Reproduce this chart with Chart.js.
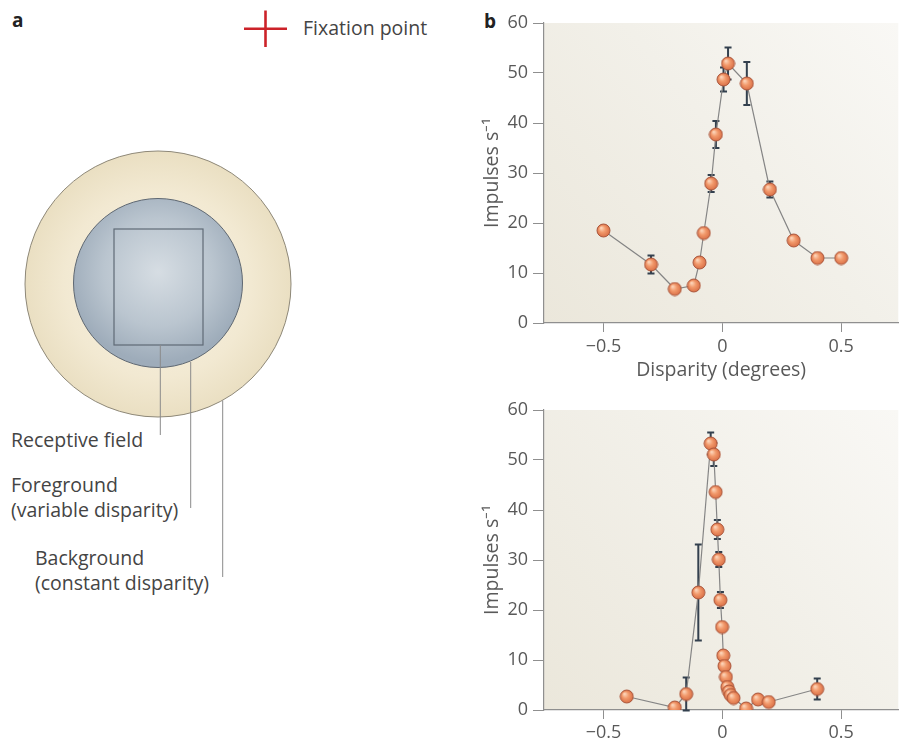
<!DOCTYPE html>
<html>
<head>
<meta charset="utf-8">
<script src="https://cdn.jsdelivr.net/npm/chart.js@4.4.1/dist/chart.umd.min.js"></script>
<style>
html,body{margin:0;padding:0;background:#fff;width:906px;height:743px;overflow:hidden;}
#wrap{position:relative;width:906px;height:743px;}
svg text{font-family:"Open Sans",sans-serif;}
canvas{position:absolute;}
</style>
</head>
<body>
<div id="wrap">
<svg width="470" height="743" style="position:absolute;left:0;top:0">
  <defs>
    <radialGradient id="gOuter" cx="158" cy="284" r="133" gradientUnits="userSpaceOnUse">
      <stop offset="0" stop-color="#f8f3e6"/>
      <stop offset="0.7" stop-color="#f2e9d2"/>
      <stop offset="1" stop-color="#eadfc2"/>
    </radialGradient>
    <radialGradient id="gInner" cx="158" cy="272" r="90" gradientUnits="userSpaceOnUse">
      <stop offset="0" stop-color="#d6dde3"/>
      <stop offset="0.6" stop-color="#bac5cf"/>
      <stop offset="1" stop-color="#9eacba"/>
    </radialGradient>
  </defs>
  <line x1="244" y1="28.7" x2="287" y2="28.7" stroke="#cc2229" stroke-width="2.6"/>
  <line x1="265.5" y1="10.5" x2="265.5" y2="47" stroke="#cc2229" stroke-width="2.6"/>
  <circle cx="158" cy="284" r="133" fill="url(#gOuter)" stroke="#8e8878" stroke-width="1"/>
  <circle cx="158" cy="283" r="84.5" fill="url(#gInner)" stroke="#5f6872" stroke-width="1"/>
  <rect x="114" y="229" width="89" height="116" fill="none" stroke="#5f6a76" stroke-width="1.2"/>
  <line x1="160.3" y1="345" x2="160.3" y2="435" stroke="#8a8a8a" stroke-width="1"/>
  <line x1="190.7" y1="362" x2="190.7" y2="508" stroke="#8a8a8a" stroke-width="1"/>
  <line x1="222.7" y1="400.5" x2="222.7" y2="577" stroke="#8a8a8a" stroke-width="1"/>
  <text x="12" y="27" font-size="19" font-weight="bold" fill="#222">a</text>
  <text x="303" y="35" font-size="19.5" fill="#444">Fixation point</text>
  <text x="11" y="446.7" font-size="19.5" fill="#444">Receptive field</text>
  <text x="11" y="491.7" font-size="19.5" fill="#444">Foreground</text>
  <text x="11" y="516.7" font-size="19.5" fill="#444">(variable disparity)</text>
  <text x="35" y="565" font-size="19.5" fill="#444">Background</text>
  <text x="35" y="590" font-size="19.5" fill="#444">(constant disparity)</text>
</svg>
<svg width="30" height="40" style="position:absolute;left:478px;top:0">
  <text x="6" y="28" font-size="19" font-weight="bold" fill="#222">b</text>
</svg>
<canvas id="c1" width="436" height="385" style="left:470px;top:0"></canvas>
<canvas id="c2" width="436" height="356" style="left:470px;top:387px"></canvas>
</div>
<script>
// ---- Data ----
const topX   = [-0.5, -0.3, -0.2, -0.12, -0.096, -0.078, -0.047, -0.027, 0.005, 0.024, 0.103, 0.2, 0.3, 0.4, 0.5];
const topY   = [18.5, 11.7, 6.8, 7.5, 12.1, 18.0, 27.9, 37.7, 48.7, 51.9, 47.9, 26.7, 16.5, 13.0, 13.0];
const topErr = [0, 1.8, 0, 0, 0, 0, 1.7, 2.7, 2.4, 3.2, 4.3, 1.6, 0, 0, 0];

const botX   = [-0.402, -0.2, -0.152, -0.101, -0.049, -0.036, -0.028, -0.021, -0.015, -0.008, -0.001, 0.004, 0.009, 0.015, 0.021, 0.028, 0.035, 0.047, 0.1, 0.15, 0.195, 0.399];
const botY   = [2.7, 0.5, 3.2, 23.5, 53.3, 51.1, 43.6, 36.1, 30.1, 22.0, 16.6, 10.9, 8.8, 6.6, 4.6, 3.7, 3.0, 2.4, 0.3, 2.1, 1.6, 4.2];
const botErr = [0, 0, 3.3, 9.6, 2.2, 2.3, 0, 1.9, 1.5, 1.6, 0, 0, 0, 0, 0, 0, 0, 0, 0, 0, 0, 2.1];

const xTickValues = [-0.5, 0, 0.5];
const xTickLabels = ['\u22120.5', '0', '0.5'];
const yTickValues = [0, 10, 20, 30, 40, 50, 60];
const yTitle = 'Impulses s\u207B\u00B9';
const xTitle = 'Disparity (degrees)';

// ---- Styling helpers ----
const FONT = '"Open Sans", sans-serif';
const AXIS = '#8f8f8f';
const TXT = '#595959';

function makeBall(r) {
  const s = Math.ceil(2 * r + 2);
  const c = document.createElement('canvas');
  c.width = s; c.height = s;
  const g = c.getContext('2d');
  const cx = s / 2;
  const grad = g.createRadialGradient(cx - r * 0.35, cx - r * 0.4, r * 0.1, cx, cx, r);
  grad.addColorStop(0, '#fcd2b6');
  grad.addColorStop(0.45, '#f29a6c');
  grad.addColorStop(1, '#da7047');
  g.fillStyle = grad;
  g.beginPath(); g.arc(cx, cx, r, 0, Math.PI * 2); g.fill();
  g.strokeStyle = '#a9553a'; g.lineWidth = 1; g.stroke();
  return c;
}
const ball = makeBall(6.5);

const bgPlugin = {
  id: 'plotBg',
  beforeDraw(chart) {
    const {ctx, chartArea: a} = chart;
    const g = ctx.createLinearGradient(a.left, a.bottom, a.right, a.top);
    g.addColorStop(0, '#ebe7db');
    g.addColorStop(0.55, '#f2f0e9');
    g.addColorStop(1, '#f9f8f5');
    ctx.save();
    ctx.fillStyle = g;
    ctx.fillRect(a.left, a.top, a.right - a.left, a.bottom - a.top);
    ctx.restore();
  }
};

const errPlugin = {
  id: 'errBars',
  beforeDatasetsDraw(chart, args, opts) {
    const {ctx, scales: {x, y}} = chart;
    ctx.save();
    ctx.strokeStyle = '#33404e';
    ctx.lineWidth = 2;
    opts.xs.forEach((xv, i) => {
      const e = opts.errs[i];
      if (!e) return;
      const px = x.getPixelForValue(xv);
      const t = y.getPixelForValue(opts.ys[i] + e);
      const b = y.getPixelForValue(opts.ys[i] - e);
      ctx.beginPath();
      ctx.moveTo(px, t); ctx.lineTo(px, b);
      ctx.moveTo(px - 3.5, t); ctx.lineTo(px + 3.5, t);
      ctx.moveTo(px - 3.5, b); ctx.lineTo(px + 3.5, b);
      ctx.stroke();
    });
    ctx.restore();
  }
};

function makeChart(id, xs, ys, errs, showXTitle, xAxisHeight, tickPad) {
  const pts = xs.map((v, i) => ({x: v, y: ys[i]}));
  return new Chart(document.getElementById(id), {
    type: 'line',
    data: {
      datasets: [{
        data: pts,
        borderColor: '#858585',
        borderWidth: 1.2,
        pointStyle: ball,
        pointRadius: 6.5,
        pointHoverRadius: 6.5,
        tension: 0,
        fill: false
      }]
    },
    plugins: [bgPlugin, errPlugin],
    options: {
      responsive: false,
      animation: false,
      events: [],
      layout: {padding: {top: 23, left: 0, right: 0, bottom: 0}},
      plugins: {
        legend: {display: false},
        tooltip: {enabled: false},
        errBars: {xs: xs, ys: ys, errs: errs}
      },
      scales: {
        x: {
          type: 'linear',
          min: -0.75, max: 0.74,
          afterBuildTicks: s => { s.ticks = xTickValues.map(v => ({value: v})); },
          afterFit: s => { s.height = xAxisHeight; },
          ticks: {
            autoSkip: false, maxRotation: 0, padding: tickPad,
            color: TXT, font: {family: FONT, size: 18},
            callback: v => xTickLabels[xTickValues.indexOf(v)]
          },
          grid: {drawOnChartArea: false, drawTicks: true, tickLength: 9, color: AXIS, lineWidth: 1},
          border: {color: AXIS, width: 1.2},
          title: {
            display: showXTitle, text: xTitle, color: TXT,
            font: {family: FONT, size: 19.5}, padding: {top: 0, bottom: 3}
          }
        },
        y: {
          type: 'linear',
          min: 0, max: 60,
          afterBuildTicks: s => { s.ticks = yTickValues.map(v => ({value: v})); },
          afterFit: s => { s.width = 74; },
          ticks: {padding: 5, color: TXT, font: {family: FONT, size: 18}},
          grid: {drawOnChartArea: false, drawTicks: true, tickLength: 11, color: AXIS, lineWidth: 1},
          border: {color: AXIS, width: 1.2},
          title: {
            display: true, text: yTitle, color: TXT,
            font: {family: FONT, size: 19.5}, padding: {top: 11, bottom: 0}
          }
        }
      }
    }
  });
}

makeChart('c1', topX, topY, topErr, true, 62, 4);
makeChart('c2', botX, botY, botErr, false, 33, 3);
</script>
</body>
</html>
